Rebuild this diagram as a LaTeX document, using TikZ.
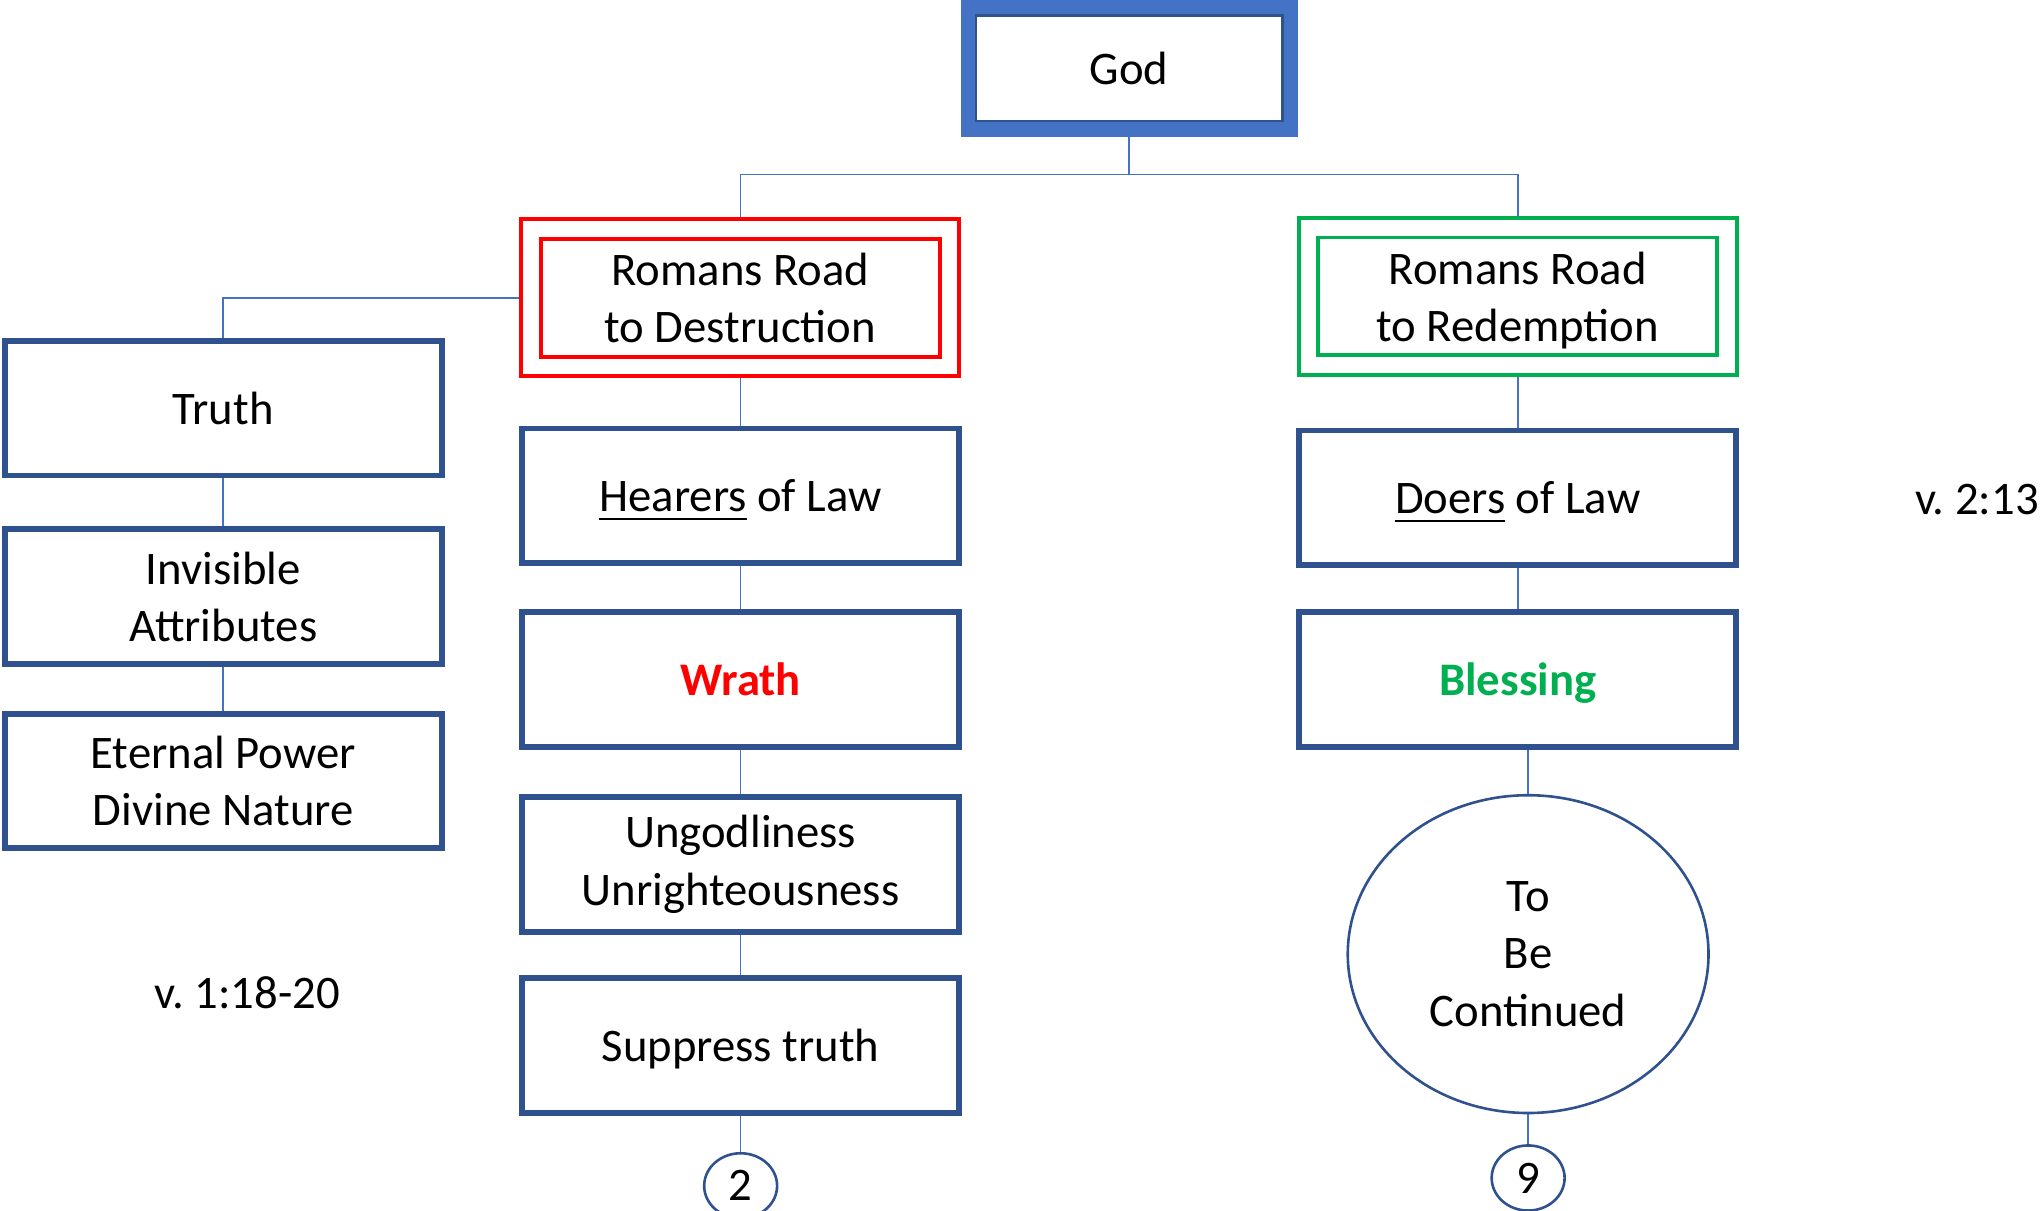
\documentclass[tikz,border=0pt]{standalone}
\usepackage{fontspec}
\setmainfont{Carlito}
\usetikzlibrary{shapes.geometric}
\definecolor{boxblue}{HTML}{2F528F}
\definecolor{godblue}{HTML}{4472C4}
\definecolor{linkblue}{HTML}{4472C4}
\definecolor{wrathred}{HTML}{FF0000}
\definecolor{blessgreen}{HTML}{00B050}
\newcommand{\linestrut}{\rule[-3pt]{0pt}{13pt}}
\frenchspacing

\begin{document}
\begin{tikzpicture}[x=0.01cm, y=-0.01cm,
		font=\fontsize{10.2}{12.5}\selectfont,
		godbox/.style={draw=godblue, line width=0.12cm, minimum width=2.47cm, minimum height=0.93cm, inner sep=0pt},
		block/.style={draw=boxblue, line width=0.045cm, minimum width=3.355cm, minimum height=1.035cm, inner sep=0pt, align=center},
		oneline/.style={block, execute at begin node=\linestrut, execute at end node=\linestrut},
		road/.style={double=white, double distance=0.12cm, line width=0.03cm, minimum width=3.215cm, minimum height=1.055cm, inner sep=0pt, outer sep=0.09cm, align=center},
		oval/.style={ellipse, draw=boxblue, line width=0.02cm, inner sep=0pt, align=center},
		link/.style={draw=linkblue, line width=0.012cm}]
		\useasboundingbox (0,0) rectangle (1568,930);
		\node[godbox] (god) at (867.5,52.5) {God};
		\draw[boxblue, line width=0.02cm] ([shift={(12,12)}]god.north west) rectangle ([shift={(-12,-12)}]god.south east);
		\node[road, draw=wrathred] (dest) at (568.75,228.75) {Romans Road\\to Destruction};
		\node[road, draw=blessgreen] (redm) at (1166,227.75) {Romans Road\\\raisebox{0pt}[\height][0pt]{to Redemption}};
		\node[oneline] (truth) at (171.5,313.5) {Truth};
		\node[block] (invis) at (171.5,458.5) {Invisible\\Attributes};
		\node[block] (power) at (171.5,600) {Eternal Power\\Divine Nature};
		\node[oneline] (hear) at (569,381) {\underline{Hearers} of Law};
		\node[oneline] (wrath) at (569,522) {\textbf{\textcolor{wrathred}{Wrath}}};
		\node[block] (ungod) at (569,664) {Ungodliness\\Unrighteousness};
		\node[oneline] (supp) at (569,803) {Suppress truth};
		\node[oneline] (doers) at (1166,382.5) {\underline{Doers} of Law};
		\node[oneline] (bless) at (1166,522) {\textbf{\textcolor{blessgreen}{Blessing}}};
		\node[oval, minimum width=2.77cm, minimum height=2.44cm] (cont) at (1174,733) {To\\Be\\Continued};
		\node[oval, minimum width=0.56cm, minimum height=0.5cm] (two) at (569,911) {2};
		\node[oval, minimum width=0.56cm, minimum height=0.5cm] (nine) at (1174,905) {9};
		\node (vleft) at (190,763) {v. 1:18-20};
		\node[anchor=east, inner sep=0pt] (vright) at (1567,384) {v. 2:13};
		\draw[link] (god.south) -- ++(0,29) coordinate (fork);
		\draw[link] (dest.north) -- (dest.north |- fork) -- (redm.north |- fork) -- (redm.north);
		\draw[link] (dest.west) -| (truth.north);
		\foreach \a/\b in {truth/invis, invis/power, dest/hear, hear/wrath, wrath/ungod, ungod/supp, supp/two, redm/doers, doers/bless, bless/cont, cont/nine}
			\draw[link] (\b.north |- \a.south) -- (\b.north);
	\end{tikzpicture}
\end{document}
